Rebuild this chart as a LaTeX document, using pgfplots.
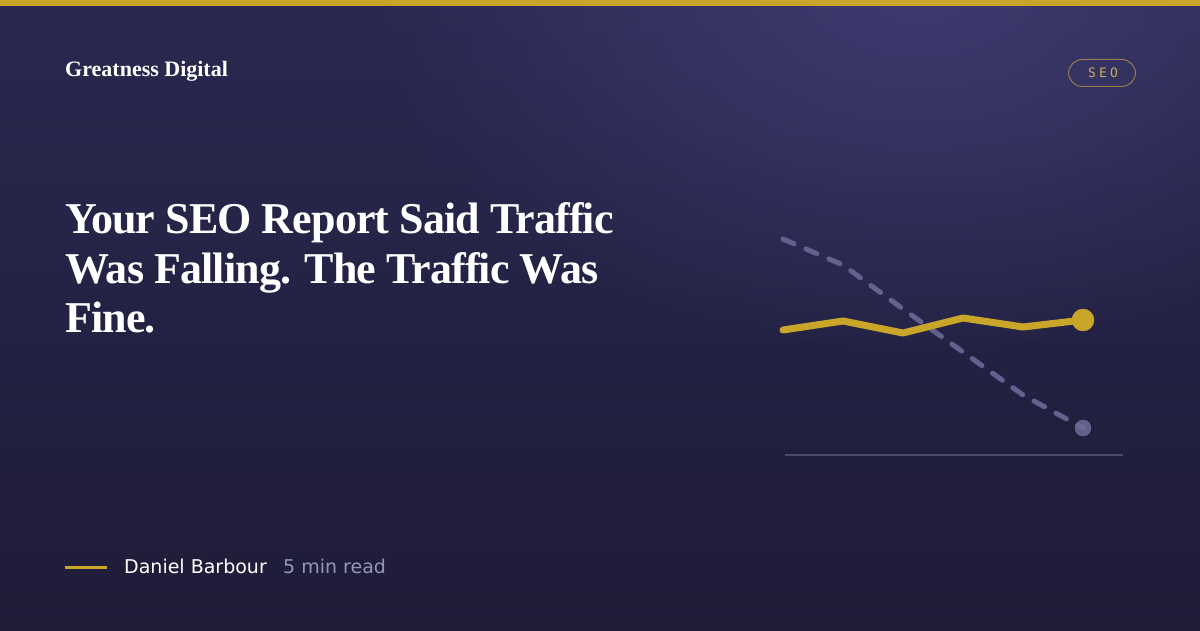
\documentclass[border=0pt]{standalone}
\usepackage{pgfplots}
\pgfplotsset{compat=1.18}
\usepackage{fontspec}
\setmainfont{Liberation Serif}
\newfontfamily\titlefont[LetterSpace=-2]{Liberation Serif}
\newfontfamily\dejavu{DejaVu Sans}
\newfontfamily\dejamono[LetterSpace=25]{DejaVu Sans Mono}
\usetikzlibrary{fadings}
\definecolor{bgtop}{RGB}{42,40,80}
\definecolor{bgbot}{RGB}{30,28,55}
\definecolor{glowc}{RGB}{62,60,112}
\definecolor{gold}{RGB}{201,165,42}
\definecolor{badgeline}{RGB}{150,122,78}
\definecolor{badgetext}{RGB}{205,170,90}
\definecolor{dashc}{RGB}{98,98,142}
\definecolor{dashdot}{RGB}{108,108,152}
\definecolor{basec}{RGB}{75,74,110}
\definecolor{greytext}{RGB}{150,150,188}
\tikzfading[name=glowfade, inner color=transparent!0, outer color=transparent!100]
\begin{document}
\begin{tikzpicture}[x=1pt,y=1pt]
% background
\shade[top color=bgtop, bottom color=bgbot] (0,0) rectangle (1200,630);
\begin{scope}
\clip (0,0) rectangle (1200,630);
\fill[glowc, path fading=glowfade] (920,650) ellipse (560 and 380);
\end{scope}
\fill[gold] (0,624) rectangle (1200,630);
% logo
\node[anchor=base west, inner sep=0, text=white] at (65,553) {\fontsize{22}{26}\selectfont\bfseries Greatness Digital};
% badge
\draw[badgeline, line width=1pt, rounded corners=14] (1068.5,543.5) rectangle (1135.5,570.5);
\node[inner sep=0, text=badgetext] at (1103,557) {\fontsize{13}{15}\selectfont\dejamono SEO};
% title
\node[anchor=base west, inner sep=0, text=white] at (65,396) {\fontsize{44}{50}\selectfont\titlefont\bfseries Your SEO Report Said Traffic};
\node[anchor=base west, inner sep=0, text=white] at (65,346.5) {\fontsize{44}{50}\selectfont\titlefont\bfseries Was Falling. The Traffic Was};
\node[anchor=base west, inner sep=0, text=white] at (65,297) {\fontsize{44}{50}\selectfont\titlefont\bfseries Fine.};
% byline
\draw[gold, line width=3pt] (65,63) -- (107,63);
\node[anchor=base west, inner sep=0, text=white] at (124,57) {\fontsize{19}{22}\selectfont\dejavu Daniel Barbour};
\node[anchor=base west, inner sep=0, text=greytext] at (283,57) {\fontsize{19}{22}\selectfont\dejavu 5 min read};
% chart
\begin{axis}[at={(783pt,175pt)}, anchor=south west, width=340pt, height=235pt, scale only axis,
  xmin=0, xmax=5.6667, ymin=0, ymax=235, axis lines=none, clip=false]
\addplot[basec, line width=1.5pt] coordinates {(0.0333,0) (5.6667,0)};
\addplot[dashc, line width=5pt, line cap=round, dash pattern=on 12pt off 13pt] coordinates {
(0,216) (1,190) (2,146) (3,103) (4,60) (5,27)};
\addplot[dashdot, only marks, mark=*, mark size=8pt, mark options={draw=none, fill=dashdot, fill opacity=0.85}] coordinates {(5,27)};
\addplot[gold, line width=7pt, line cap=round, line join=round] coordinates {
(0,125) (1,134) (2,122) (3,137) (4,128) (5,135)};
\addplot[gold, only marks, mark=*, mark size=11pt, mark options={draw=none, fill=gold}] coordinates {(5,135)};
\end{axis}
\end{tikzpicture}
\end{document}
